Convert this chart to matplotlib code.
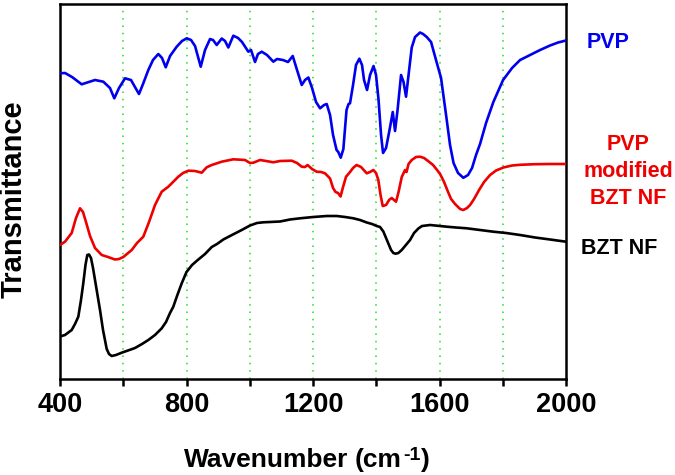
import matplotlib
matplotlib.use("Agg")
import matplotlib.pyplot as plt

plt.rcParams['font.family'] = ['Liberation Sans', 'DejaVu Sans']

# PVP (blue)
pvp_x = [400, 415.8, 438, 468.6, 510.7, 537, 558, 571.7, 586.6, 605.6, 624.5, 637, 649.8, 662.5,
         679.3, 694, 710.9, 722.6, 734.3, 748, 769, 785.8, 800.7, 814.3, 827, 845, 858.6, 874.4,
         883.9, 895.6, 911.4, 921.8, 932.3, 948, 963, 975.6, 995.5, 1004, 1016.7, 1026, 1037.9,
         1054.6, 1074.6, 1086.3, 1105, 1121, 1135.9, 1149.5, 1164.4, 1174.8, 1185.3, 1197, 1209.6,
         1222.3, 1235, 1243.4, 1253.9, 1263.4, 1274.5, 1280, 1287.7, 1296, 1306, 1312.4, 1317,
         1326.6, 1336, 1346.6, 1355, 1361.4, 1370.9, 1380.4, 1391.4, 1399.3, 1407.3, 1415.2,
         1421.5, 1431, 1442, 1452.2, 1459.4, 1467.4, 1478.4, 1486.3, 1494.2, 1502.1, 1512.2,
         1522.7, 1538.5, 1548, 1559.7, 1573.3, 1590.7, 1604.9, 1622.9, 1633.3, 1644.4, 1658.6,
         1675.4, 1690.2, 1702.9, 1715.5, 1728.2, 1747.2, 1770.3, 1801, 1829.5, 1854.8, 1886.4,
         1918, 1949.6, 1974.9, 2000]
pvp_y = [305.7, 306, 302, 294.7, 299, 297.3, 291, 280.7, 291, 300.7, 299, 292, 285, 295,
         309, 319, 325, 321, 311.7, 323, 332.3, 338, 340.7, 339, 333, 312.3, 329, 340,
         339, 334, 340.5, 338, 331.5, 343.3, 341, 337, 327.3, 329, 317, 325, 327.3,
         324, 317.3, 320, 319, 317, 323, 309, 294, 299, 301.5, 291, 277,
         270.7, 274, 275, 264, 244, 229, 227, 221.3, 230, 269, 275, 275.7,
         294, 314, 320.3, 314, 299, 289, 304, 313, 304, 279, 244,
         226, 231, 249, 267, 248, 269, 304, 297, 282.3, 304, 331.5,
         342, 346.5, 345, 342, 337, 317, 301, 259, 234, 216, 206,
         201.2, 204, 211, 224, 235, 256, 277, 299, 311, 319, 324,
         329, 333.5, 336.5, 338.5]

# PVP modified BZT NF (red)
mod_x = [400, 415.8, 437, 450.6, 463.3, 472.7, 482.2, 494.9, 510.7, 531.9, 551.8, 573.9, 586.6,
         600.2, 626.8, 643.5, 663.4, 681.5, 700.4, 721.6, 742.5, 757.4, 774.1, 789, 805.7, 826.9,
         848.1, 863.9, 879.8, 911.4, 948, 985, 1000.9, 1011.3, 1032.5, 1051.5, 1074.6, 1095.8,
         1132.8, 1149.5, 1164.4, 1174.8, 1182.7, 1197, 1211.8, 1225.4, 1238, 1253.9, 1263.4,
         1271.3, 1279.2, 1287.1, 1295, 1304.5, 1317.1, 1326.6, 1337.7, 1351.9, 1369.9, 1380.4,
         1390.8, 1399.3, 1406.6, 1413.6, 1420.5, 1431, 1440.5, 1449, 1456.3, 1462.6, 1470.5,
         1480.6, 1491.1, 1495.8, 1502.1, 1512.2, 1525.8, 1538.5, 1551.2, 1563.8, 1579.6, 1592.3,
         1601.8, 1614.4, 1627.1, 1636.6, 1649.2, 1665.1, 1675.4, 1687.1, 1696.6, 1709.3, 1725.1,
         1740.9, 1759.9, 1778.9, 1802, 1829.5, 1854.8, 1902.2, 1949.6, 2000]
mod_y = [134, 137.3, 146, 161, 170.7, 167, 157, 143, 131, 124, 122, 119.5, 120,
         122, 129, 136, 142.3, 157, 174, 187.3, 192.3, 197, 202.3, 206, 208.3, 208,
         206.3, 211.7, 214, 217.3, 219.7, 219, 216, 216.3, 219, 218, 216.7, 218,
         218.3, 216, 212.3, 212, 214, 210, 207.3, 207, 205.7, 200.5, 191,
         187, 186, 182.5, 192, 202.3, 207, 211, 214, 212, 205.7, 207,
         209, 206, 199, 184, 173, 174, 179, 181, 179, 177.3, 187,
         202, 209, 207, 215, 219, 222, 222.3, 221, 218, 214, 209,
         205, 197, 187, 180, 175, 170, 169, 171, 174, 180, 189,
         197, 204, 208.5, 211.5, 213.5, 214.2, 214.8, 215, 215]

# BZT NF (black)
bzt_x = [400, 415.8, 437, 447.4, 457.9, 466.4, 473.7, 480.6, 486.3, 491.7, 498, 504.4, 510.7,
         518.6, 526.5, 536, 547.7, 555, 563.5, 577.1, 595.1, 615, 637.2, 659.3, 679.3, 700.4,
         721.6, 735.2, 747.9, 758.3, 770, 784.9, 800, 817.5, 837.4, 858.6, 879.8, 896.5, 916.4,
         948, 974.6, 1000.9, 1023, 1042.9, 1064.1, 1095.8, 1127.4, 1159, 1201.1, 1243.4, 1275.1,
         1301.3, 1327.6, 1348.8, 1370, 1386.7, 1401.6, 1412, 1422.4, 1431, 1438.9, 1446.8,
         1454.1, 1461.1, 1469.9, 1480.6, 1491.1, 1506.9, 1519.5, 1533.1, 1544.8, 1570.1, 1595.4,
         1622.9, 1652.3, 1686.2, 1728.2, 1770.3, 1810.5, 1854.8, 1902.2, 1949.6, 2000]
bzt_y = [42.5, 44, 49, 55, 62.3, 79, 96, 114, 124, 124.5, 121, 111, 99,
         84, 69, 49, 30, 25, 23, 24, 26.3, 28.5, 31, 35, 39, 44,
         50.7, 57, 66, 72.3, 83, 95.7, 107, 114, 119.5, 125, 132, 135, 139.5,
         144.7, 149, 153.5, 156, 156.7, 157, 157.5, 159.5, 160.7, 162, 163, 163,
         162, 160.7, 159, 156.5, 155, 153, 152, 147.5, 141, 135, 129,
         126, 125.3, 126, 129, 133, 139, 146, 150.5, 153, 154, 153.2,
         152.3, 151.5, 150.7, 149, 147.3, 146, 144, 141.5, 139.5, 137.3]

xticks = [400, 600, 800, 1000, 1200, 1400, 1600, 1800, 2000]
xtick_labels = ['400', '', '800', '', '1200', '', '1600', '', '2000']
grid_x = [600, 800, 1000, 1200, 1400, 1600, 1800]

W, H = 675, 475
fig = plt.figure(figsize=(6.75, 4.75), dpi=100)
ax = fig.add_axes([60/W, 1-379/H, 506/W, 375/H])

for gx in grid_x:
    ax.axvline(gx, color='#22dd22', lw=1.1, ls=(0, (1, 3.8)), zorder=1)

line_kw = dict(lw=1.9, zorder=3, solid_joinstyle='round', solid_capstyle='round')
ax.plot(pvp_x, pvp_y, color='#0000ee', **line_kw)
ax.plot(mod_x, mod_y, color='#ee0000', **line_kw)
ax.plot(bzt_x, bzt_y, color='black', **line_kw)

ax.set_xlim(400, 2000)
ax.set_ylim(0, 375)
ax.set_yticks([])
ax.set_xticks(xticks)
ax.set_xticklabels(xtick_labels, fontsize=19.5, fontweight='bold')
ax.tick_params(axis='x', direction='out', length=5, width=1.8, pad=4)
for s in ax.spines.values():
    s.set_linewidth(1.8)

fig.text(14/W, 1-199/H, 'Transmittance', rotation=90, fontsize=21,
         fontweight='bold', ha='center', va='center')

# x label composed of pieces: main text, parenthesised unit with small superscript
r = fig.canvas.get_renderer()
base_y = 1-467/H
fig.text(184/W, base_y, 'Wavenumber', fontsize=19, fontweight='bold',
         ha='left', va='baseline')
t1 = fig.text(355/W, base_y, '(cm', fontsize=19, fontweight='bold',
              ha='left', va='baseline')
b1 = t1.get_window_extent(r)
t2 = fig.text((b1.x1 + 1)/W, base_y + 7/H, '-1', fontsize=14, fontweight='bold',
              ha='left', va='baseline')
b2 = t2.get_window_extent(r)
fig.text((b2.x1 + 1)/W, base_y, ')', fontsize=19, fontweight='bold',
         ha='left', va='baseline')

fig.text(587/W, 1-43/H, 'PVP', color='#0000ee', fontsize=15.5, fontweight='bold',
         ha='left', va='center')
fig.text(628/W, 1-171.5/H, 'PVP\nmodified\nBZT NF', color='#ee0000', fontsize=15.5,
         fontweight='bold', ha='center', va='center', linespacing=1.4)
fig.text(581/W, 1-248/H, 'BZT NF', color='black', fontsize=15.5, fontweight='bold',
         ha='left', va='center')

fig.savefig('out.png', dpi=100)
